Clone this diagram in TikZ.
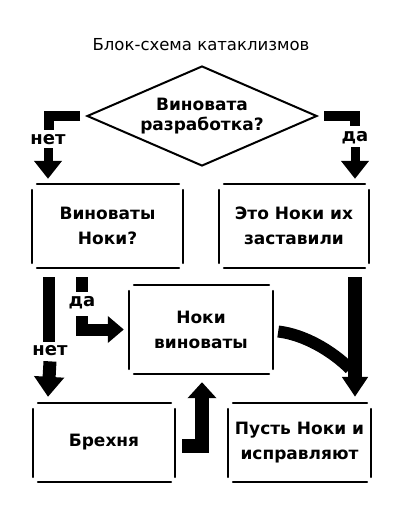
\documentclass[tikz,border=0pt]{standalone}
\usepackage{fontspec}
\setmainfont{DejaVu Sans}
\usetikzlibrary{arrows.meta,positioning,calc,shapes.geometric}
\tikzset{box/.style={align=center,inner sep=0pt,font=\bfseries\fontsize{17}{25}\selectfont},
  rim/.style={line width=2pt,line cap=round},
  tag/.style={inner sep=0pt,font=\bfseries\fontsize{18}{18}\selectfont},
  bar/.style={line width=10pt},
  fat/.style={line width=#1,-{Triangle[width=27pt,length=18pt]}},
  fat/.default=9pt}
\newcommand{\gapframe}[1]{%
  \draw[rim] ([xshift=5pt]#1.north west) -- ([xshift=-4pt]#1.north east);
  \draw[rim] ([xshift=5pt]#1.south west) -- ([xshift=-4pt]#1.south east);
  \draw[rim] ([yshift=-6pt]#1.north west) -- ([yshift=5pt]#1.south west);
  \draw[rim] ([yshift=-6pt]#1.north east) -- ([yshift=5pt]#1.south east);}

\begin{document}
\begin{tikzpicture}[x=1pt,y=-1pt]
\useasboundingbox[fill=white] (0,0) rectangle (403,507);
\node[font=\fontsize{16.5}{16.5}\selectfont] (title) at (201,45) {Блок-схема катаклизмов};
% decision
\node[draw,rim,diamond,aspect=2.3,inner sep=0pt,minimum width=230pt,minimum height=100pt,
  box] (ask) at (202,116) {Виновата\\[-5pt]разработка?};
% boxes
\node[box,minimum width=151pt,minimum height=84pt] (noki) at (107.5,226) {Виноваты\\Ноки?};
\node[box,minimum width=150pt,minimum height=84pt] (made) at (294,226) {Это Ноки их\\заставили};
\node[box,minimum width=144pt,minimum height=89pt] (guilty) at (201,329.5) {Ноки\\виноваты};
\node[box,minimum width=142pt,minimum height=79pt] (lie) at (104,442.5) {Брехня};
\node[box,minimum width=143pt,minimum height=79pt] (fix) at (299.5,442.5) {Пусть Ноки и\\исправляют};
\gapframe{noki}
\gapframe{made}
\gapframe{guilty}
\gapframe{lie}
\gapframe{fix}
% labels
\node[tag] (no1) at (48,140) {нет};
\node[tag] (yes1) at (355,138) {да};
\node[tag] (no2) at (50,351) {нет};
\node[tag] (yes2) at (82,303) {да};
% first split
\draw[bar] ([xshift=-6pt]ask.west) -| ($(no1.north)+(1,-5)$);
\draw[bar] ([xshift=6pt]ask.east) -| ($(yes1.north)+(0,-6)$);
\draw[fat] ([yshift=-3pt]no1.south) -- ($(no1.south |- noki.north)+(0,-5)$);
\draw[fat] ([yshift=-3pt]yes1.south) -- ($(yes1.south |- made.north)+(0,-5)$);
% second split
\draw[line width=12pt] ($(no2.north |- noki.south)+(-1,9)$) -- ($(no2.north)+(-1,-4)$);
\draw[line width=12pt] ($(yes2 |- noki.south)+(0,9)$) -- ($(yes2 |- noki.south)+(0,24)$);
\draw[fat=13pt,-{Triangle[width=29pt,length=20pt]}] ([yshift=-5pt]no2.south) -- ($(no2.south |- lie.north)+(-2,-6)$);
\draw[line width=12pt,-{Triangle[width=26pt,length=16pt]}] ($(yes2.south)+(0,7)$) |- ([xshift=-5pt]guilty.west);
% right column
\draw[fat=14pt,-{Triangle[width=25pt,length=20pt]}] ($(made.south)+(61,9)$) coordinate (r)
  -- ($(r |- fix.north)+(0,-6)$);
\draw[line width=12pt] ([xshift=5pt,yshift=-2pt]guilty.east)
  .. controls +(26,3) and +(-18,-18) .. ($(r |- fix.north)+(-5,-34)$);
% back up
\draw[line width=14pt,-{Triangle[width=28pt,length=16pt]}] ([xshift=7pt,yshift=-3pt]lie.east)
  -| ($(guilty.south)+(1,8)$);
\end{tikzpicture}
\end{document}
